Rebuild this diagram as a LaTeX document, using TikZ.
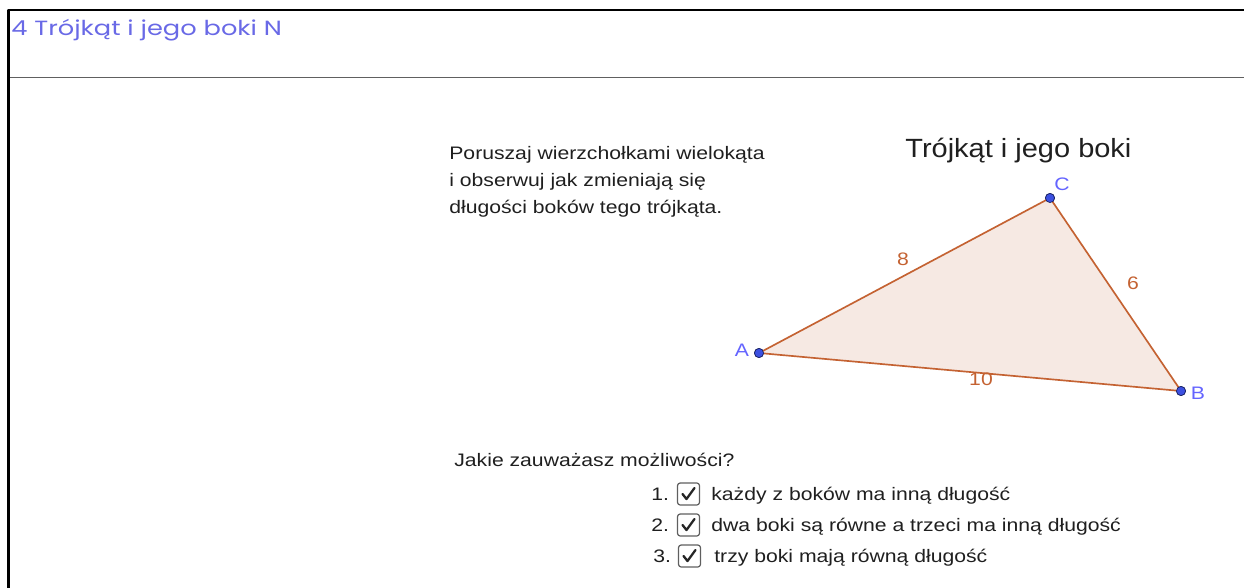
\documentclass[tikz,border=0pt]{standalone}
\usepackage{fontspec}
\setmainfont{Liberation Sans}[FakeStretch=1.17]
\newfontfamily\titlefont{Liberation Sans}[FakeStretch=1.1]
\newfontfamily\headfont{Poppins}[FakeStretch=1.25]
\usepackage{xcolor}
\usetikzlibrary{positioning}
\definecolor{headblue}{RGB}{105,105,230}
\definecolor{sidecol}{RGB}{196,98,50}
\definecolor{fillcol}{RGB}{246,233,227}
\definecolor{ptblue}{RGB}{60,80,225}
\definecolor{lblblue}{RGB}{100,100,255}
\definecolor{boxgray}{RGB}{95,95,95}
\tikzset{
  every picture/.style={line join=round, line cap=round},
  txt/.style={anchor=base west, inner sep=0pt, text=black!88, font=\fontsize{10.3}{12}\selectfont},
  vert/.style={circle, fill=ptblue, draw=ptblue!45!black, line width=0.4pt, inner sep=0pt, minimum size=5.2pt},
  vlabel/.style={inner sep=0pt, text=lblblue, font=\fontsize{10.3}{12}\selectfont},
  side/.style={inner sep=0pt, text=sidecol, font=\fontsize{10.3}{12}\selectfont},
  chkbox/.style={draw=boxgray, rounded corners=1.5pt, line width=0.7pt, minimum size=12.5pt, inner sep=0pt},
  tick/.style={line width=1.3pt, black!85},
}

\begin{document}
\begin{tikzpicture}[x=0.02cm, y=-0.02cm]
\useasboundingbox (0,0) rectangle (1244,588);
% frame
\draw[line width=1.7pt, line cap=butt] (8.5,588) -- (8.5,10) -- (1244,10);
\draw[line width=1.1pt, gray!75!black, line cap=butt] (10,77.5) -- (1244,77.5);
\node[anchor=base west, inner sep=0pt, text=headblue, font=\headfont\fontsize{11.7}{14}\selectfont] (head) at (11,36) {4 Trójkąt i jego boki N};
% instructions
\node[txt] (hint1) at (449,159) {Poruszaj wierzchołkami wielokąta};
\node[txt] (hint2) at (449,186) {i obserwuj jak zmieniają się};
\node[txt] (hint3) at (449,213) {długości boków tego trójkąta.};
\node[txt, font=\titlefont\fontsize{15}{18}\selectfont] (title) at (905,157) {Trójkąt i jego boki};
% triangle
\node[vert] (A) at (759,353) {};
\node[vert] (B) at (1181,391) {};
\node[vert] (C) at (1050,198) {};
\fill[fillcol] (A.center) -- (B.center) -- (C.center) -- cycle;
\draw[sidecol, line width=0.95pt] (A.center) -- (B.center) -- (C.center) -- cycle;
\node[vert] at (A) {};
\node[vert] at (B) {};
\node[vert] at (C) {};
\node[vlabel] (labA) at (742,350) {A};
\node[vlabel] (labB) at (1198,393) {B};
\node[vlabel] (labC) at (1062,184) {C};
\node[side] (sAC) at (903,259) {8};
\node[side] (sCB) at (1133,283) {6};
\node[side] (sAB) at (981,379) {10};
% question
\node[txt] (quest) at (454,466) {Jakie zauważasz możliwości?};
% answers
\node[txt] (n1) at (651,500) {1.};
\node[chkbox] (c1) at (688.5,494) {};
\draw[tick] ([shift={(-6,0)}]c1.center) -- ([shift={(-2,5)}]c1.center) -- ([shift={(6,-6)}]c1.center);
\node[txt] (a1) at (711,500) {każdy z boków ma inną długość};
\node[txt] (n2) at (651,531) {2.};
\node[chkbox] (c2) at (688.5,525) {};
\draw[tick] ([shift={(-6,0)}]c2.center) -- ([shift={(-2,5)}]c2.center) -- ([shift={(6,-6)}]c2.center);
\node[txt] (a2) at (711,531) {dwa boki są równe a trzeci ma inną długość};
\node[txt] (n3) at (653,562) {3.};
\node[chkbox] (c3) at (689.5,556) {};
\draw[tick] ([shift={(-6,0)}]c3.center) -- ([shift={(-2,5)}]c3.center) -- ([shift={(6,-6)}]c3.center);
\node[txt] (a3) at (714,562) {trzy boki mają równą długość};
\end{tikzpicture}
\end{document}
